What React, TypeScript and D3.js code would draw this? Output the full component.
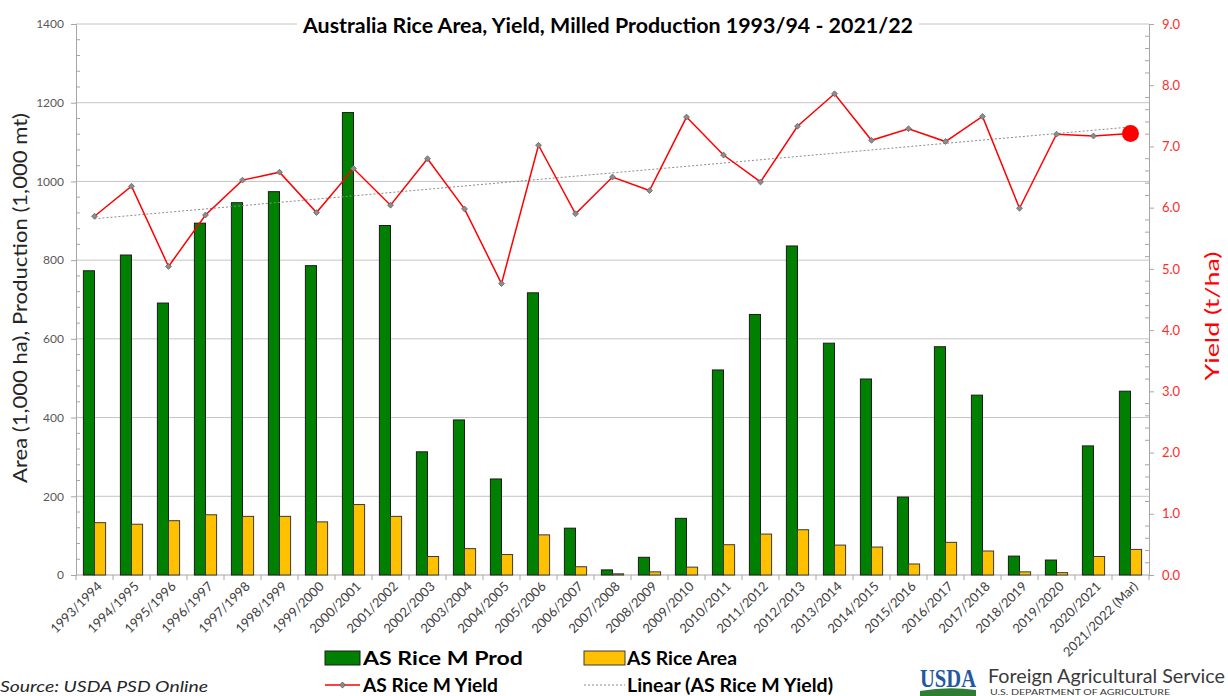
import React, { useRef, useEffect } from "react";
import * as d3 from "d3";

const categories = [
  "1993/1994", "1994/1995", "1995/1996", "1996/1997", "1997/1998", "1998/1999",
  "1999/2000", "2000/2001", "2001/2002", "2002/2003", "2003/2004", "2004/2005",
  "2005/2006", "2006/2007", "2007/2008", "2008/2009", "2009/2010", "2010/2011",
  "2011/2012", "2012/2013", "2013/2014", "2014/2015", "2015/2016", "2016/2017",
  "2017/2018", "2018/2019", "2019/2020", "2020/2021", "2021/2022 (Mar)",
];

// 1,000 mt
const prodValues = [
  773, 813, 691, 894, 946, 974, 786, 1175, 888, 313, 394, 244, 717, 119, 13,
  45, 144, 521, 662, 836, 589, 498, 198, 580, 457, 48, 38, 328, 467,
];

// 1,000 ha
const areaValues = [
  133, 129, 138, 153, 149, 149, 135, 179, 149, 47, 67, 52, 102, 21, 3,
  8, 20, 77, 104, 115, 76, 71, 28, 83, 61, 8, 6, 47, 65,
];

// t/ha
const yieldValues = [
  5.86, 6.35, 5.04, 5.88, 6.45, 6.58, 5.92, 6.64, 6.04, 6.8, 5.98, 4.76, 7.02,
  5.9, 6.5, 6.28, 7.48, 6.86, 6.42, 7.33, 7.86, 7.1, 7.29, 7.08, 7.49, 5.99,
  7.2, 7.17, 7.21,
];

const leftTicks = [0, 200, 400, 600, 800, 1000, 1200, 1400];
const rightTicks = [0, 1, 2, 3, 4, 5, 6, 7, 8, 9];

const W = 1228;
const H = 696;
const FONT = "Lato, 'Open Sans', sans-serif";

const App = () => {
  const svgRef = useRef<SVGSVGElement>(null);

  useEffect(() => {
    const svg = d3.select(svgRef.current);
    svg.selectAll("*").remove();

    const left = 76, right = 1149, top = 24, bottom = 575;

    const x = d3.scaleBand<string>()
      .domain(categories)
      .range([left, right])
      .paddingInner(0.4)
      .paddingOuter(0.2);
    const xs = d3.scaleBand<string>()
      .domain(["prod", "area"])
      .range([0, x.bandwidth()]);
    const yL = d3.scaleLinear().domain([0, 1400]).range([bottom, top]);
    const yR = d3.scaleLinear().domain([0, 9]).range([bottom, top]);
    const cx = (c: string) => (x(c) as number) + x.bandwidth() / 2;

    svg.append("rect").attr("width", W).attr("height", H).attr("fill", "#ffffff");

    // gridlines
    svg.append("g")
      .selectAll("line")
      .data(leftTicks.filter(t => t > 0))
      .enter()
      .append("line")
      .attr("x1", left)
      .attr("x2", right)
      .attr("y1", d => yL(d))
      .attr("y2", d => yL(d))
      .attr("stroke", "#c4c4c4")
      .attr("stroke-width", 1);

    // left axis
    const gL = svg.append("g").attr("transform", `translate(${left},0)`);
    gL.call(d3.axisLeft(yL).tickValues(leftTicks).tickFormat(d3.format("d")).tickSize(5).tickPadding(7));
    gL.selectAll("text")
      .attr("fill", "#595959")
      .style("font-family", FONT)
      .style("font-size", "12px");
    const minorL = d3.range(0, 1401, 40).filter(v => v % 200 !== 0);
    gL.selectAll(".minor")
      .data(minorL)
      .enter()
      .append("line")
      .attr("x1", 0)
      .attr("x2", 4)
      .attr("y1", d => yL(d))
      .attr("y2", d => yL(d))
      .attr("stroke", "#a6a6a6");

    // right axis
    const gR = svg.append("g").attr("transform", `translate(${right},0)`);
    gR.call(d3.axisRight(yR).tickValues(rightTicks).tickFormat(d => (+d).toFixed(1)).tickSize(5).tickPadding(8));
    gR.selectAll("text")
      .attr("fill", "#ff2b2b")
      .style("font-family", FONT)
      .style("font-size", "13px");
    const minorR = d3.range(0, 9.01, 0.2).filter(v => Math.abs(v - Math.round(v)) > 0.01);
    gR.selectAll(".minor")
      .data(minorR)
      .enter()
      .append("line")
      .attr("x1", -4)
      .attr("x2", 0)
      .attr("y1", d => yR(d))
      .attr("y2", d => yR(d))
      .attr("stroke", "#a6a6a6");

    // x axis
    const gX = svg.append("g").attr("transform", `translate(0,${bottom})`);
    gX.append("line")
      .attr("x1", left)
      .attr("x2", right)
      .attr("stroke", "#a6a6a6");
    const step = x.step();
    gX.selectAll(".xt")
      .data(d3.range(categories.length + 1))
      .enter()
      .append("line")
      .attr("x1", i => left + i * step)
      .attr("x2", i => left + i * step)
      .attr("y1", 0)
      .attr("y2", 5)
      .attr("stroke", "#a6a6a6");
    gX.selectAll(".xl")
      .data(categories)
      .enter()
      .append("text")
      .attr("transform", d => `translate(${cx(d) + 5},${9}) rotate(-45)`)
      .attr("text-anchor", "end")
      .attr("dy", "0.35em")
      .attr("fill", "#404040")
      .style("font-family", FONT)
      .style("font-size", "13px")
      .text(d => d);

    gL.select(".domain").attr("stroke", "#a6a6a6");
    gR.select(".domain").attr("stroke", "#a6a6a6");
    svg.selectAll(".tick line").attr("stroke", "#a6a6a6");

    // bars
    const groups = svg.append("g")
      .selectAll("g")
      .data(categories)
      .enter()
      .append("g")
      .attr("transform", d => `translate(${x(d)},0)`);
    groups.append("rect")
      .attr("x", xs("prod") as number)
      .attr("y", (d, i) => yL(prodValues[i]))
      .attr("width", xs.bandwidth())
      .attr("height", (d, i) => bottom - yL(prodValues[i]))
      .attr("fill", "#008000")
      .attr("stroke", "#1c1c1c")
      .attr("stroke-width", 1);
    groups.append("rect")
      .attr("x", xs("area") as number)
      .attr("y", (d, i) => yL(areaValues[i]))
      .attr("width", xs.bandwidth())
      .attr("height", (d, i) => bottom - yL(areaValues[i]))
      .attr("fill", "#ffc000")
      .attr("stroke", "#3a3a3a")
      .attr("stroke-width", 1);

    // linear trend of yield
    const idx = d3.range(yieldValues.length);
    const mx = d3.mean(idx) as number;
    const my = d3.mean(yieldValues) as number;
    const slope = d3.sum(idx, i => (i - mx) * (yieldValues[i] - my)) / d3.sum(idx, i => (i - mx) ** 2);
    const trend = (i: number) => my + slope * (i - mx);
    const last = categories.length - 1;
    svg.append("line")
      .attr("x1", cx(categories[0]))
      .attr("x2", cx(categories[last]))
      .attr("y1", yR(trend(0)))
      .attr("y2", yR(trend(last)))
      .attr("stroke", "#8c8c8c")
      .attr("stroke-width", 1)
      .attr("stroke-dasharray", "2,2");

    // yield line
    const line = d3.line<number>()
      .x((d, i) => cx(categories[i]))
      .y(d => yR(d));
    svg.append("path")
      .datum(yieldValues)
      .attr("d", line)
      .attr("fill", "none")
      .attr("stroke", "#ff0000")
      .attr("stroke-width", 1.5);
    svg.append("g")
      .selectAll("path")
      .data(yieldValues.slice(0, last))
      .enter()
      .append("path")
      .attr("d", d3.symbol().type(d3.symbolDiamond2).size(22))
      .attr("transform", (d, i) => `translate(${cx(categories[i])},${yR(d)})`)
      .attr("fill", "#8c8c8c")
      .attr("stroke", "#666666")
      .attr("stroke-width", 0.8);
    svg.append("circle")
      .attr("cx", cx(categories[last]))
      .attr("cy", yR(yieldValues[last]))
      .attr("r", 8.5)
      .attr("fill", "#ff0000");

    // title
    svg.append("rect")
      .attr("x", 297)
      .attr("y", 12)
      .attr("width", 622)
      .attr("height", 24)
      .attr("fill", "#ffffff");
    svg.append("text")
      .attr("x", 303)
      .attr("y", 33)
      .attr("textLength", 610)
      .attr("lengthAdjust", "spacingAndGlyphs")
      .style("font-family", FONT)
      .style("font-size", "20px")
      .style("font-weight", "bold")
      .attr("fill", "#000000")
      .text("Australia Rice Area, Yield, Milled Production 1993/94 - 2021/22");

    // axis titles
    svg.append("text")
      .attr("transform", "translate(27,298) rotate(-90)")
      .attr("text-anchor", "middle")
      .attr("textLength", 370)
      .attr("lengthAdjust", "spacingAndGlyphs")
      .attr("fill", "#262626")
      .style("font-family", FONT)
      .style("font-size", "20px")
      .text("Area (1,000 ha), Production (1,000 mt)");
    svg.append("text")
      .attr("transform", "translate(1219,316) rotate(-90)")
      .attr("text-anchor", "middle")
      .attr("textLength", 129)
      .attr("lengthAdjust", "spacingAndGlyphs")
      .attr("fill", "#ff0000")
      .style("font-family", FONT)
      .style("font-size", "20px")
      .text("Yield (t/ha)");

    // legend
    const legend = svg.append("g").style("font-family", FONT).style("font-weight", "bold");
    legend.append("rect").attr("x", 325).attr("y", 651).attr("width", 35).attr("height", 14)
      .attr("fill", "#008000").attr("stroke", "#1c1c1c");
    legend.append("text").attr("x", 363).attr("y", 665).attr("textLength", 160)
      .attr("lengthAdjust", "spacingAndGlyphs").style("font-size", "18px").text("AS Rice M Prod");
    legend.append("rect").attr("x", 584).attr("y", 651).attr("width", 41).attr("height", 14)
      .attr("fill", "#ffc000").attr("stroke", "#3a3a3a");
    legend.append("text").attr("x", 627).attr("y", 665).attr("textLength", 110)
      .attr("lengthAdjust", "spacingAndGlyphs").style("font-size", "18px").text("AS Rice Area");
    legend.append("line").attr("x1", 325).attr("x2", 360).attr("y1", 685).attr("y2", 685)
      .attr("stroke", "#ff0000").attr("stroke-width", 1.5);
    legend.append("path").attr("d", d3.symbol().type(d3.symbolDiamond2).size(22))
      .attr("transform", "translate(342.5,685)").attr("fill", "#8c8c8c").attr("stroke", "#666666");
    legend.append("text").attr("x", 363).attr("y", 692).attr("textLength", 135)
      .attr("lengthAdjust", "spacingAndGlyphs").style("font-size", "18px").text("AS Rice M Yield");
    legend.append("line").attr("x1", 584).attr("x2", 625).attr("y1", 685).attr("y2", 685)
      .attr("stroke", "#8c8c8c").attr("stroke-dasharray", "2,2");
    legend.append("text").attr("x", 627).attr("y", 692).attr("textLength", 206)
      .attr("lengthAdjust", "spacingAndGlyphs").style("font-size", "18px").text("Linear (AS Rice M Yield)");

    // source
    svg.append("text")
      .attr("x", 0)
      .attr("y", 692)
      .attr("textLength", 208)
      .attr("lengthAdjust", "spacingAndGlyphs")
      .attr("fill", "#262626")
      .style("font-family", FONT)
      .style("font-size", "16px")
      .style("font-style", "italic")
      .text("Source: USDA PSD Online");

    // USDA FAS logo
    const logo = svg.append("g");
    logo.append("text")
      .attr("x", 920)
      .attr("y", 687)
      .attr("textLength", 56)
      .attr("lengthAdjust", "spacingAndGlyphs")
      .attr("fill", "#1f5aa0")
      .style("font-family", "'Liberation Serif', serif")
      .style("font-size", "26px")
      .style("font-weight", "bold")
      .text("USDA");
    logo.append("path")
      .attr("d", "M920,696 L920,691 Q948,686 976,690 L976,696 Z")
      .attr("fill", "#2e7d32");
    logo.append("text")
      .attr("x", 988)
      .attr("y", 683)
      .attr("textLength", 237)
      .attr("lengthAdjust", "spacingAndGlyphs")
      .attr("fill", "#3a3a3a")
      .style("font-family", FONT)
      .style("font-size", "20px")
      .text("Foreign Agricultural Service");
    logo.append("text")
      .attr("x", 990)
      .attr("y", 695)
      .attr("textLength", 180)
      .attr("lengthAdjust", "spacingAndGlyphs")
      .attr("fill", "#3a3a3a")
      .style("font-family", FONT)
      .style("font-size", "8px")
      .text("U.S. DEPARTMENT OF AGRICULTURE");
  }, []);

  return (
    <div style={{ position: "absolute", left: 0, top: 0 }}>
      <svg ref={svgRef} width={W} height={H} style={{ display: "block" }}></svg>
    </div>
  );
};

export default App;
